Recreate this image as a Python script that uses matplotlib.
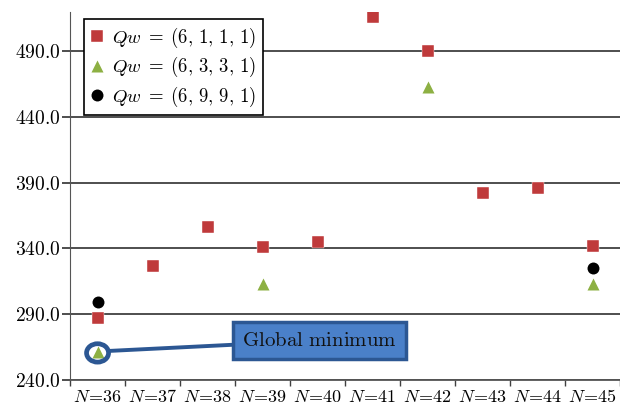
import numpy as np
import matplotlib
matplotlib.use("Agg")
import matplotlib.pyplot as plt
from matplotlib.patches import Ellipse

plt.rcParams['mathtext.fontset'] = 'cm'
plt.rcParams['font.family'] = 'DejaVu Serif'

labels = ["36", "37", "38", "39", "40", "41", "42", "43", "44", "45"]
# Qw = (6,1,1,1)
red_vals = [287, 327, 356, 341, 345, 516, 490, 382, 386, 342]
# Qw = (6,3,3,1), only some sizes
green_idx = [0, 3, 6, 9]
green_vals = [261, 313, 463, 313]
# Qw = (6,9,9,1)
black_idx = [0, 9]
black_vals = [299, 325]
yticks = [240, 290, 340, 390, 440, 490]

red = "#bf3a3b"
green = "#8db043"
dark_blue = "#2c5793"
box_blue = "#4a80c9"

fig = plt.figure(figsize=(6.2, 4.12), dpi=100)
ax = fig.add_axes([0.113, 0.078, 0.887, 0.893])

x = np.arange(len(labels))
ax.plot(x, red_vals, ls="none", marker="s", ms=8.6, color=red,
        mec="white", mew=0.3, label=r"$Qw\;=\;(6,\,1,\,1,\,1)$", zorder=3)
ax.plot(x[green_idx], green_vals, ls="none", marker="^", ms=9, color=green,
        mec="none", label=r"$Qw\;=\;(6,\,3,\,3,\,1)$", zorder=3)
ax.plot(x[black_idx], black_vals, ls="none", marker="o", ms=8.6, color="black",
        mec="none", label=r"$Qw\;=\;(6,\,9,\,9,\,1)$", zorder=3)

ax.set_xlim(-0.5, len(labels) - 0.5)
ax.set_ylim(240, 520)
ax.set_yticks(yticks)
ax.set_yticklabels([r"$%.1f$" % v for v in yticks], fontsize=14)
ax.yaxis.grid(True, color="#404040", lw=1.3)
ax.set_axisbelow(True)

ax.set_xticks(np.arange(len(labels) + 1) - 0.5)
ax.set_xticklabels([])
ax.set_xticks(x, minor=True)
ax.set_xticklabels([r"$N\!=\!%s$" % l for l in labels], minor=True, fontsize=13)
ax.tick_params(axis="x", which="minor", length=0, pad=6)
ax.tick_params(axis="x", which="major", length=4, width=1, color="#404040")
ax.tick_params(axis="y", length=6, width=1.3, color="#404040", pad=1)

for s in ["top", "right"]:
    ax.spines[s].set_visible(False)
ax.spines["left"].set_color("#555555")
ax.spines["bottom"].set_color("#555555")
ax.spines["bottom"].set_linewidth(1.3)

leg = ax.legend(loc="upper left", bbox_to_anchor=(0.026, 0.98), fontsize=13.5,
                handlelength=0.7, handletextpad=0.45, borderpad=0.35,
                labelspacing=0.28, fancybox=False, edgecolor="black",
                framealpha=1, borderaxespad=0.0)
leg.get_frame().set_linewidth(1.2)

# global minimum marker
ax.add_patch(Ellipse((0, 260.5), 0.4, 14, fill=False, ec=dark_blue,
                     lw=3.4, zorder=4))
ax.annotate(r"$\mathrm{Global\ minimum}$", xy=(0.2, 262), xytext=(4.04, 270),
            fontsize=15, ha="center", va="center", color="#111111",
            bbox=dict(boxstyle="square,pad=0.45", fc=box_blue, ec=dark_blue, lw=2.5),
            arrowprops=dict(arrowstyle="-", color=dark_blue, lw=2.8,
                            shrinkA=0, shrinkB=0), zorder=5)

fig.savefig("out.png", dpi=100)
